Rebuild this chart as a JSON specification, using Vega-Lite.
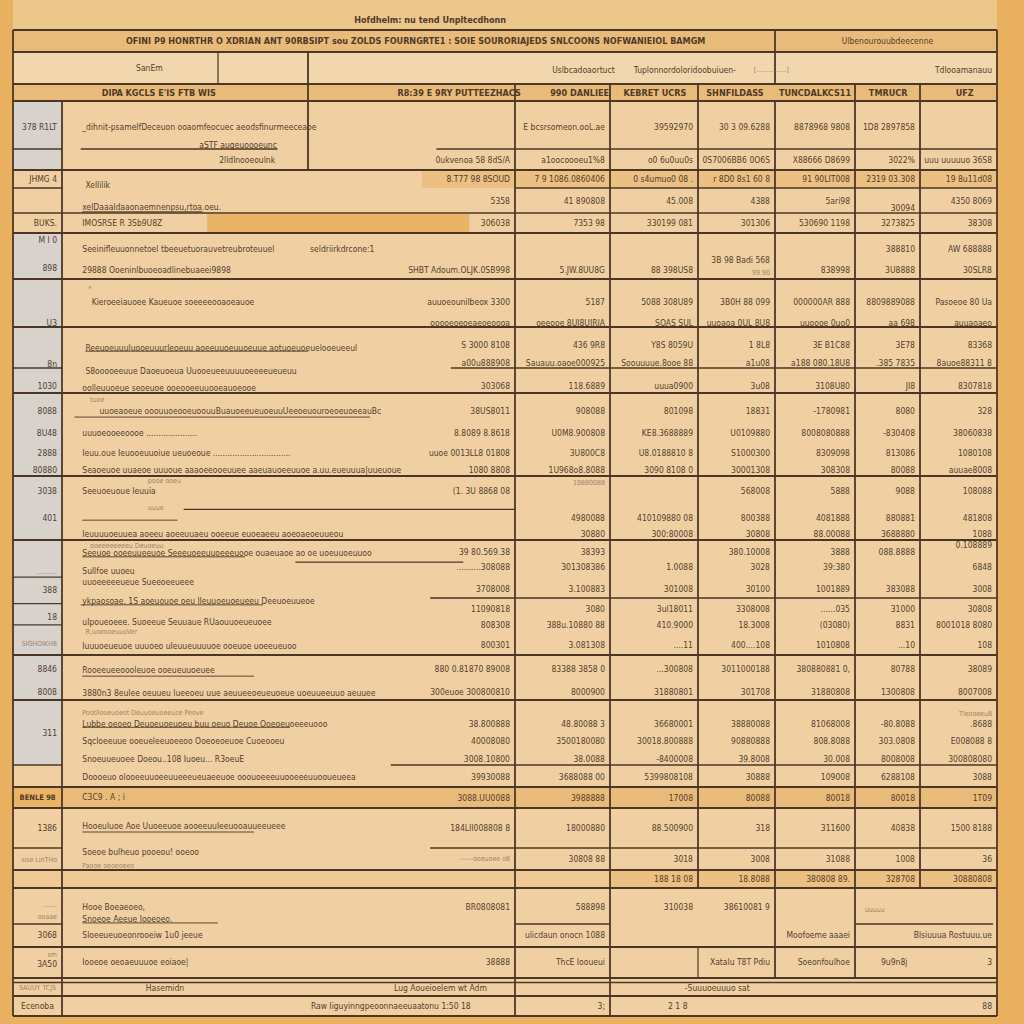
{
"$schema": "https://vega.github.io/schema/vega-lite/v6.json",
"width": 1024, "height": 1024, "padding": 0, "autosize": "none",
"background": "#E8B05F",
"config": {"view": {"stroke": null}},
"datasets": {
"fills": [
{"x":0,"x2":10,"y":-1,"y2":0,"f":"top"},
{"x":0,"x2":10,"y":0,"y2":28,"f":"base"},
{"x":0,"x2":10,"y":0,"y2":1,"f":"band"},
{"x":0,"x2":10,"y":1,"y2":2,"f":"light"},
{"x":0,"x2":10,"y":2,"y2":3,"f":"band"},
{"x":0,"x2":1,"y":3,"y2":5,"f":"gray"},
{"x":0,"x2":1,"y":8,"y2":18,"f":"gray"},
{"x":4,"x2":10,"y":5,"y2":6,"f":"band2"},
{"x":3.55,"x2":4,"y":5,"y2":6,"f":"band2"},
{"x":1.93,"x2":3.78,"y":7.05,"y2":7.95,"f":"hl"},
{"x":0,"x2":10,"y":19,"y2":20,"f":"band"},
{"x":0,"x2":1,"y":19,"y2":20,"f":"hl"},
{"x":0,"x2":10,"y":22,"y2":23,"f":"band3"},
{"x":5,"x2":10,"y":22,"y2":23,"f":"band2"}
],
"hrules": [
{"x":0,"x2":10,"y":0,"w":"b"},{"x":0,"x2":10,"y":1,"w":"b"},{"x":0,"x2":10,"y":2,"w":"b"},{"x":0,"x2":10,"y":3,"w":"b"},
{"x":0,"x2":1,"y":4,"w":"n"},{"x":1.12,"x2":2.66,"y":4,"w":"n"},{"x":3.62,"x2":10,"y":4,"w":"n"},
{"x":0,"x2":10,"y":5,"w":"b"},{"x":0,"x2":1,"y":6,"w":"n"},{"x":4,"x2":10,"y":6,"w":"n"},
{"x":0,"x2":10,"y":7,"w":"n"},{"x":0,"x2":10,"y":8,"w":"b"},{"x":0,"x2":10,"y":9,"w":"b"},{"x":0,"x2":10,"y":10,"w":"b"},
{"x":0,"x2":1,"y":11,"w":"n"},{"x":3.69,"x2":10,"y":11,"w":"n"},
{"x":0,"x2":10,"y":12,"w":"b"},{"x":0,"x2":10,"y":13,"w":"b"},{"x":0,"x2":10,"y":14,"w":"b"},
{"x":0,"x2":1,"y":14.64,"w":"n"},{"x":0,"x2":1,"y":15.1,"w":"n"},{"x":3.59,"x2":10,"y":15,"w":"n"},{"x":0,"x2":1,"y":15.47,"w":"n"},
{"x":0,"x2":10,"y":16,"w":"b"},{"x":0,"x2":10,"y":17,"w":"b"},
{"x":0,"x2":1,"y":18,"w":"n"},{"x":3.4,"x2":10,"y":18,"w":"n"},
{"x":0,"x2":10,"y":19,"w":"b"},{"x":0,"x2":10,"y":20,"w":"b"},
{"x":0,"x2":1,"y":21,"w":"n"},{"x":3.59,"x2":10,"y":21,"w":"n"},
{"x":0,"x2":10,"y":22,"w":"b"},{"x":0,"x2":10,"y":23,"w":"b"},
{"x":0,"x2":1,"y":24,"w":"n"},{"x":4,"x2":5,"y":24,"w":"n"},{"x":8,"x2":9.95,"y":24,"w":"n"},
{"x":0,"x2":10,"y":25,"w":"b"},{"x":0,"x2":10,"y":26,"w":"b"},{"x":0,"x2":10,"y":26.25,"w":"n"},
{"x":0,"x2":10,"y":27,"w":"b"},{"x":0,"x2":10,"y":28,"w":"b"},
{"x":1.15,"x2":3,"y":10.59,"w":"t"},{"x":1.08,"x2":3.3,"y":12.29,"w":"t"},{"x":1.78,"x2":4,"y":13.52,"w":"n"},
{"x":1.13,"x2":1.74,"y":13.69,"w":"t"},{"x":1.13,"x2":2.3,"y":14.29,"w":"t"},{"x":2.86,"x2":3.75,"y":14.38,"w":"n"},
{"x":1.12,"x2":2.5,"y":15.12,"w":"t"},{"x":1.13,"x2":2.4,"y":16.47,"w":"t"},{"x":1.13,"x2":2.8,"y":17.42,"w":"t"},
{"x":1.13,"x2":2.4,"y":20.6,"w":"t"},{"x":1.13,"x2":2,"y":23.97,"w":"t"},{"x":1.13,"x2":1.9,"y":6.95,"w":"t"}
],
"vrules": [
{"x":0,"y":0,"y2":28,"w":"b"},{"x":10,"y":0,"y2":28,"w":"b"},{"x":1,"y":3,"y2":28,"w":"b"},
{"x":2,"y":1,"y2":2,"w":"n"},{"x":3,"y":1,"y2":5,"w":"b"},{"x":4,"y":2,"y2":28,"w":"b"},{"x":5,"y":2,"y2":28,"w":"b"},
{"x":6,"y":2,"y2":23,"w":"b"},{"x":6,"y":25,"y2":26,"w":"n"},{"x":7,"y":0,"y2":2,"w":"b"},{"x":7,"y":3,"y2":26,"w":"b"},
{"x":8,"y":2,"y2":26,"w":"b"},{"x":9,"y":2,"y2":23,"w":"b"}
],
"th": [
{"x":3.59,"y":-0.33,"t":"Hofdhelm: nu tend Unpltecdhonn"},
{"x":3.52,"y":0.5,"t":"OFINI P9 HONRTHR O XDRIAN ANT 90RBSIPT  sou ZOLDS FOURNGRTE1 : SOIE SOURORIAJEDS SNLCOONS  NOFWANIEIOL BAMGM"},
{"x":1.62,"y":2.5,"t":"DIPA KGCLS E'IS FTB WIS"},
{"x":3.73,"y":2.5,"t":"R8:39 E 9RY PUTTEEZHACS"},
{"x":4.68,"y":2.5,"t":"990 DANLIEE"},
{"x":5.51,"y":2.5,"t":"KEBRET UCRS"},
{"x":6.48,"y":2.5,"t":"SHNFILDASS"},
{"x":7.5,"y":2.5,"t":"TUNCDALKCS11"},
{"x":8.51,"y":2.5,"t":"TMRUCR"},
{"x":9.58,"y":2.5,"t":"UFZ"},
{"x":0.5,"y":19.5,"t":"BENLE 98","k":"s"}
],
"tc": [
{"x":8.5,"y":0.5,"t":"Ulbenourouubdeecenne"},
{"x":1.56,"y":1.5,"t":"SanEm"},
{"x":4.72,"y":1.55,"t":"Uslbcadoaortuct"},
{"x":5.85,"y":1.55,"t":"Tuplonnordoloridoobuiuen-"},
{"x":6.95,"y":1.55,"t":"[...............]","k":"s"},
{"x":0.5,"y":26.55,"t":"SAUUY TCJS","k":"s"},
{"x":1.66,"y":26.55,"t":"Hasemidn"},
{"x":3.64,"y":26.55,"t":"Lug Aoueioelem wt Adm"},
{"x":6.25,"y":26.55,"t":"-Suuuoeuuuo sat"},
{"x":0.5,"y":27.5,"t":"Ecenoba"},
{"x":3.4,"y":27.5,"t":"Raw Iiguyinngpeoonnaeeuaatonu 1:50 18"},
{"x":5.77,"y":27.5,"t":"2 1 8"}
],
"tl": [
{"x":1.13,"y":3.54,"t":"_dihnit-psamelfDeceuon ooaomfeocuec aeodsfinurmeeceaoe"},
{"x":1.15,"y":5.83,"t":"Xellilik"},
{"x":1.13,"y":6.76,"t":"xelDaaaldaaonaemnenpsu,rtoa.oeu."},
{"x":1.13,"y":7.5,"t":"IMOSRSE R 3Sb9U8Z"},
{"x":1.13,"y":8.35,"t":"Seeinifleuuonnetoel tbeeuetuorauvetreubroteuuel"},
{"x":3.01,"y":8.35,"t":"seldriirkdrcone:1"},
{"x":1.13,"y":8.8,"t":"29888 Ooeninlbuoeoadlinebuaeei9898"},
{"x":1.17,"y":9.2,"t":"*","k":"s"},
{"x":1.19,"y":9.48,"t":"Kieroeeiauoee Kaueuoe   soeeeeooaoeauoe"},
{"x":1.15,"y":10.5,"t":"Reeuoeuuuluooeuuurleoeuu aoeeuuoeuuoeuue aotuoeuoeuelooeueeul"},
{"x":1.15,"y":11.12,"t":"S8ooooeeuue Daoeuoeua Uuooeueeuuuuoeeeeueueuu"},
{"x":1.13,"y":11.8,"t":"oolleuuoeue  seoeuoe  ooeooeeuuooeauoeooe"},
{"x":1.18,"y":12.08,"t":"tuoe","k":"s"},
{"x":1.24,"y":12.22,"t":"uuoeaoeue ooouuoeooeuoouuBuauoeeueuoeuuUeeoeuouroeoeuoeeauBc"},
{"x":1.13,"y":12.48,"t":"uuuoeooeeoooe ....................."},
{"x":1.13,"y":12.72,"t":"Ieuu.oue Ieuooeuuoiue ueuoeoue ................................"},
{"x":1.13,"y":12.93,"t":"Seaoeuoe uuaeoe uuuoue aaaoeeooeuuee aaeuauoeeuuoe a.uu.eueuuua|uueuoue"},
{"x":1.13,"y":13.23,"t":"Seeuoeuoue Ieuuia"},
{"x":1.55,"y":13.08,"t":"pooe ooeu","k":"s"},
{"x":1.55,"y":13.5,"t":"uuue","k":"s"},
{"x":1.13,"y":13.9,"t":"Ieuuuuoeuuea aoeeu aoeeuuaeu ooeeue euoeaeeu aoeoaeoeuueou"},
{"x":1.18,"y":14.1,"t":"ooeeeeeeeeu Deuoeuu","k":"s"},
{"x":1.13,"y":14.23,"t":"Seeuoe ooeeuueeuoe Seeeuoeeuuoeeeuooe ouaeuaoe ao oe uoeuuoeuuoo"},
{"x":1.13,"y":14.53,"t":"Sullfoe uuoeu"},
{"x":1.13,"y":14.72,"t":"uuoeeeeeueue Sueeoeeueee"},
{"x":1.13,"y":15.05,"t":"ykpaosoae. 1S aoeuouoe oeu lIeuuoeuoeueeu Deeuoeuueoe"},
{"x":1.13,"y":15.42,"t":"uIpoueoeee. Suoeeue Seuuaue RUaouuoeueuoee"},
{"x":1.15,"y":15.6,"t":"R;uoeooeuuoVer","k":"s"},
{"x":1.13,"y":15.84,"t":"Iuuuoeueuoe uuuoeo uIeuueuuuuoe ooeuoe uoeeueuoo"},
{"x":1.13,"y":16.33,"t":"Rooeeueeoooleuoe ooeueuuoeuee"},
{"x":1.13,"y":16.85,"t":"3880n3 8eulee oeuueu lueeoeu uue aeuueeoeueuoeue uoeuueeuuo aeuuee"},
{"x":1.13,"y":17.2,"t":"Pootllooeuoeot Deuuoeuoeeuce Peove","k":"s"},
{"x":1.13,"y":17.37,"t":"Lubbe oeoeo Deuoeuoeuoeu buu   oeuo Deuoe Ooeoeuoeeeuooo"},
{"x":1.13,"y":17.63,"t":"Sqcloeeuue ooeueleeuoeeoo   Ooeoeoeuoe   Cuoeooeu"},
{"x":1.13,"y":17.91,"t":"Snoeuueuoee Doeou..108 Iuoeu... R3oeuE"},
{"x":1.13,"y":18.55,"t":"Doooeuo olooeeuuoeeuueeeueuaeeuoe ooouoeeeuuooeeeuuooueueea"},
{"x":1.13,"y":19.48,"t":"C3C9  .   A ; i"},
{"x":1.13,"y":20.45,"t":"Hooeuluoe Aoe Uuoeeuoe aooeeuuleeuooauueeueee"},
{"x":1.13,"y":21.2,"t":"Soeoe bulheuo pooeou! ooeoo"},
{"x":1.13,"y":21.8,"t":"Paooe oeoeoeeo","k":"s"},
{"x":1.13,"y":23.53,"t":"Hooe Boeaeoeo,"},
{"x":1.13,"y":23.86,"t":"Snoeoe Aeeue Iooeoeo."},
{"x":8.15,"y":23.6,"t":"uuuuu","k":"s"},
{"x":1.13,"y":24.48,"t":"Sloeeueuoeonrooeiw 1u0 jeeue"},
{"x":1.13,"y":25.48,"t":"Iooeoe oeoaeuuuoe eoiaoe|"},
{"x":8.4,"y":25.48,"t":"9u9n8j"}
],
"tr": [
{"x":10,"y":1.55,"t":"Tdlooamanauu"},
{"x":1,"y":3.54,"t":"378 R1LT"},
{"x":2.71,"y":3.92,"t":"aSTF augeuoooeunc"},
{"x":5,"y":3.54,"t":"E bcsrsomeon.ooL.ae"},
{"x":6,"y":3.54,"t":"39592970"},
{"x":7,"y":3.54,"t":"30 3 09.6288"},
{"x":8,"y":3.54,"t":"8878968 9808"},
{"x":9,"y":3.54,"t":"1D8 2897858"},
{"x":2.69,"y":4.52,"t":"2lldlnooeoulnk"},
{"x":4,"y":4.52,"t":"0ukvenoa 58 8dS/A"},
{"x":5,"y":4.52,"t":"a1oocoooeu1%8"},
{"x":6,"y":4.52,"t":"o0 6u0uu0s"},
{"x":7,"y":4.52,"t":"0S7006BB6 0O6S"},
{"x":8,"y":4.52,"t":"X88666 D8699"},
{"x":9,"y":4.52,"t":"3022%"},
{"x":10,"y":4.52,"t":"uuu uuuuuo 36S8"},
{"x":1,"y":5.5,"t":"JHMG 4"},
{"x":4,"y":5.5,"t":"8.T77 98 8SOUD"},
{"x":5,"y":5.5,"t":"7 9 1086.0860406"},
{"x":6,"y":5.5,"t":"0 s4umuo0 08 ."},
{"x":7,"y":5.5,"t":"r 8D0 8s1 60 8"},
{"x":8,"y":5.5,"t":"91 90LIT008"},
{"x":9,"y":5.5,"t":"2319 03.308"},
{"x":10,"y":5.5,"t":"19 8u11d08"},
{"x":4,"y":6.52,"t":"5358"},
{"x":5,"y":6.52,"t":"41 890808"},
{"x":6,"y":6.52,"t":"45.008"},
{"x":7,"y":6.52,"t":"4388"},
{"x":8,"y":6.52,"t":"5ari98"},
{"x":9,"y":6.8,"t":"30094"},
{"x":10,"y":6.52,"t":"4350 8069"},
{"x":1,"y":7.5,"t":"BUKS."},
{"x":4,"y":7.5,"t":"306038"},
{"x":5,"y":7.5,"t":"7353 98"},
{"x":6,"y":7.5,"t":"330199 081"},
{"x":7,"y":7.5,"t":"301306"},
{"x":8,"y":7.5,"t":"530690 1198"},
{"x":9,"y":7.5,"t":"3273825"},
{"x":10,"y":7.5,"t":"38308"},
{"x":1,"y":8.15,"t":"M I 0"},
{"x":1,"y":8.76,"t":"898"},
{"x":4,"y":8.8,"t":"SHBT Adoum.OLJK.0SB998"},
{"x":5,"y":8.8,"t":"5.JW.8UU8G"},
{"x":6,"y":8.8,"t":"88 398US8"},
{"x":7,"y":8.58,"t":"3B 98 Badi 568"},
{"x":7,"y":8.88,"t":"99.90","k":"s"},
{"x":8,"y":8.8,"t":"838998"},
{"x":9,"y":8.35,"t":"388810"},
{"x":9,"y":8.8,"t":"3U8888"},
{"x":10,"y":8.35,"t":"AW 688888"},
{"x":10,"y":8.8,"t":"30SLR8"},
{"x":1,"y":9.92,"t":"U3"},
{"x":4,"y":9.48,"t":"auuoeounilbeox 3300"},
{"x":4,"y":9.92,"t":"ooooeoeoeaeoeoooa"},
{"x":5,"y":9.48,"t":"5187"},
{"x":5,"y":9.92,"t":"oeeooe 8UI8UIRIA"},
{"x":6,"y":9.48,"t":"5088 308U89"},
{"x":6,"y":9.92,"t":"SOAS SUL"},
{"x":7,"y":9.48,"t":"3B0H 88 099"},
{"x":7,"y":9.92,"t":"uuoaoa 0UL 8U8"},
{"x":8,"y":9.48,"t":"000000AR 888"},
{"x":8,"y":9.92,"t":"uuoooe 0uo0"},
{"x":9,"y":9.48,"t":"8809889088"},
{"x":9,"y":9.92,"t":"aa 698"},
{"x":10,"y":9.48,"t":"Pasoeoe 80 Ua"},
{"x":10,"y":9.92,"t":"auuaoaeo"},
{"x":1,"y":10.9,"t":"8n"},
{"x":4,"y":10.44,"t":"S 3000 8108"},
{"x":4,"y":10.88,"t":"a00u888908"},
{"x":5,"y":10.44,"t":"436 9R8"},
{"x":5,"y":10.88,"t":"Sauauu.oaoe000925"},
{"x":6,"y":10.44,"t":"Y8S 8059U"},
{"x":6,"y":10.88,"t":"Soouuuue.8ooe 88"},
{"x":7,"y":10.44,"t":"1 8L8"},
{"x":7,"y":10.88,"t":"a1u08"},
{"x":8,"y":10.44,"t":"3E B1C88"},
{"x":8,"y":10.88,"t":"a188 080.18U8"},
{"x":9,"y":10.44,"t":"3E78"},
{"x":9,"y":10.88,"t":".385 7835"},
{"x":10,"y":10.44,"t":"83368"},
{"x":10,"y":10.88,"t":"8auoe88311 8"},
{"x":1,"y":11.7,"t":"1030"},
{"x":4,"y":11.7,"t":"303068"},
{"x":5,"y":11.7,"t":"118.6889"},
{"x":6,"y":11.7,"t":"uuua0900"},
{"x":7,"y":11.7,"t":"3u08"},
{"x":8,"y":11.7,"t":"3108U80"},
{"x":9,"y":11.7,"t":"JI8"},
{"x":10,"y":11.7,"t":"8307818"},
{"x":1,"y":12.22,"t":"8088"},
{"x":1,"y":12.48,"t":"8U48"},
{"x":1,"y":12.72,"t":"2888"},
{"x":1,"y":12.93,"t":"80880"},
{"x":4,"y":12.22,"t":"38US8011"},
{"x":4,"y":12.48,"t":"8.8089 8.8618"},
{"x":4,"y":12.72,"t":"uuoe 0013LL8 01808"},
{"x":4,"y":12.93,"t":"1080 8808"},
{"x":5,"y":12.22,"t":"908088"},
{"x":5,"y":12.48,"t":"U0M8.900808"},
{"x":5,"y":12.72,"t":"3U800C8"},
{"x":5,"y":12.93,"t":"1U968o8.8088"},
{"x":6,"y":12.22,"t":"801098"},
{"x":6,"y":12.48,"t":"KE8.3688889"},
{"x":6,"y":12.72,"t":"U8.0188810 8"},
{"x":6,"y":12.93,"t":"3090 8108 0"},
{"x":7,"y":12.22,"t":"18831"},
{"x":7,"y":12.48,"t":"U0109880"},
{"x":7,"y":12.72,"t":"S1000300"},
{"x":7,"y":12.93,"t":"30001308"},
{"x":8,"y":12.22,"t":"-1780981"},
{"x":8,"y":12.48,"t":"8008080888"},
{"x":8,"y":12.72,"t":"8309098"},
{"x":8,"y":12.93,"t":"308308"},
{"x":9,"y":12.22,"t":"8080"},
{"x":9,"y":12.48,"t":"-830408"},
{"x":9,"y":12.72,"t":"813086"},
{"x":9,"y":12.93,"t":"80088"},
{"x":10,"y":12.22,"t":"328"},
{"x":10,"y":12.48,"t":"38060838"},
{"x":10,"y":12.72,"t":"1080108"},
{"x":10,"y":12.93,"t":"auuae8008"},
{"x":1,"y":13.23,"t":"3038"},
{"x":1,"y":13.66,"t":"401"},
{"x":4,"y":13.23,"t":"(1. 3U 8868 08"},
{"x":5,"y":13.11,"t":"10880088","k":"s"},
{"x":5,"y":13.66,"t":"4980088"},
{"x":5,"y":13.9,"t":"30880"},
{"x":6,"y":13.66,"t":"410109880 08"},
{"x":6,"y":13.9,"t":"300:80008"},
{"x":7,"y":13.23,"t":"568008"},
{"x":7,"y":13.66,"t":"800388"},
{"x":7,"y":13.9,"t":"30808"},
{"x":8,"y":13.23,"t":"5888"},
{"x":8,"y":13.66,"t":"4081888"},
{"x":8,"y":13.9,"t":"88.00088"},
{"x":9,"y":13.23,"t":"9088"},
{"x":9,"y":13.66,"t":"880881"},
{"x":9,"y":13.9,"t":"3688880"},
{"x":10,"y":13.23,"t":"108088"},
{"x":10,"y":13.66,"t":"481808"},
{"x":10,"y":13.9,"t":"1088"},
{"x":1,"y":14.55,"t":"..........","k":"s"},
{"x":1,"y":14.86,"t":"388"},
{"x":4,"y":14.21,"t":"39 80.569.38"},
{"x":4,"y":14.47,"t":"..........308088"},
{"x":4,"y":14.84,"t":"3708008"},
{"x":5,"y":14.21,"t":"38393"},
{"x":5,"y":14.47,"t":"301308386"},
{"x":5,"y":14.84,"t":"3.100883"},
{"x":6,"y":14.47,"t":"1.0088"},
{"x":6,"y":14.84,"t":"301008"},
{"x":7,"y":14.21,"t":"380.10008"},
{"x":7,"y":14.47,"t":"3028"},
{"x":7,"y":14.84,"t":"30100"},
{"x":8,"y":14.21,"t":"3888"},
{"x":8,"y":14.47,"t":"39:380"},
{"x":8,"y":14.84,"t":"1001889"},
{"x":9,"y":14.21,"t":"088.8888"},
{"x":9,"y":14.84,"t":"383088"},
{"x":10,"y":14.09,"t":"0.108889"},
{"x":10,"y":14.47,"t":"6848"},
{"x":10,"y":14.84,"t":"3008"},
{"x":1,"y":15.33,"t":"18"},
{"x":1,"y":15.8,"t":"SIGHOIKH8","k":"s"},
{"x":4,"y":15.19,"t":"11090818"},
{"x":4,"y":15.47,"t":"808308"},
{"x":4,"y":15.82,"t":"800301"},
{"x":5,"y":15.19,"t":"3080"},
{"x":5,"y":15.47,"t":"388u.10880 88"},
{"x":5,"y":15.82,"t":"3.081308"},
{"x":6,"y":15.19,"t":"3ul18011"},
{"x":6,"y":15.47,"t":"410.9000"},
{"x":6,"y":15.82,"t":"....11"},
{"x":7,"y":15.19,"t":"3308008"},
{"x":7,"y":15.47,"t":"18.3008"},
{"x":7,"y":15.82,"t":"400....108"},
{"x":8,"y":15.19,"t":"......035"},
{"x":8,"y":15.47,"t":"(03080)"},
{"x":8,"y":15.82,"t":"1010808"},
{"x":9,"y":15.19,"t":"31000"},
{"x":9,"y":15.47,"t":"8831"},
{"x":9,"y":15.82,"t":"...10"},
{"x":10,"y":15.19,"t":"30808"},
{"x":10,"y":15.47,"t":"8001018 8080"},
{"x":10,"y":15.82,"t":"108"},
{"x":1,"y":16.31,"t":"8846"},
{"x":1,"y":16.82,"t":"8008"},
{"x":4,"y":16.31,"t":"880 0.81870 89008"},
{"x":4,"y":16.82,"t":"300euoe 300800810"},
{"x":5,"y":16.31,"t":"83388 3858 0"},
{"x":5,"y":16.82,"t":"8000900"},
{"x":6,"y":16.31,"t":"...300808"},
{"x":6,"y":16.82,"t":"31880801"},
{"x":7,"y":16.31,"t":"3011000188"},
{"x":7,"y":16.82,"t":"301708"},
{"x":8,"y":16.31,"t":"380880881 0,"},
{"x":8,"y":16.82,"t":"31880808"},
{"x":9,"y":16.31,"t":"80788"},
{"x":9,"y":16.82,"t":"1300808"},
{"x":10,"y":16.31,"t":"38089"},
{"x":10,"y":16.82,"t":"8007008"},
{"x":1,"y":17.51,"t":"311"},
{"x":4,"y":17.37,"t":"38.800888"},
{"x":4,"y":17.63,"t":"40008080"},
{"x":4,"y":17.91,"t":"3008.10800"},
{"x":5,"y":17.37,"t":"48.80088 3"},
{"x":5,"y":17.63,"t":"3500180080"},
{"x":5,"y":17.91,"t":"38.0088"},
{"x":6,"y":17.37,"t":"36680001"},
{"x":6,"y":17.63,"t":"30018.800888"},
{"x":6,"y":17.91,"t":"-8400008"},
{"x":7,"y":17.37,"t":"38880088"},
{"x":7,"y":17.63,"t":"90880888"},
{"x":7,"y":17.91,"t":"39.8008"},
{"x":8,"y":17.37,"t":"81068008"},
{"x":8,"y":17.63,"t":"808.8088"},
{"x":8,"y":17.91,"t":"30.008"},
{"x":9,"y":17.37,"t":"-80.8088"},
{"x":9,"y":17.63,"t":"303.0808"},
{"x":9,"y":17.91,"t":"8008008"},
{"x":10,"y":17.22,"t":"Tleooeeu8","k":"s"},
{"x":10,"y":17.37,"t":".8688"},
{"x":10,"y":17.63,"t":"E008088 8"},
{"x":10,"y":17.91,"t":"300808080"},
{"x":4,"y":18.55,"t":"39930088"},
{"x":5,"y":18.55,"t":"3688088 00"},
{"x":6,"y":18.55,"t":"5399808108"},
{"x":7,"y":18.55,"t":"30888"},
{"x":8,"y":18.55,"t":"109008"},
{"x":9,"y":18.55,"t":"6288108"},
{"x":10,"y":18.55,"t":"3088"},
{"x":4,"y":19.5,"t":"3088.UU0088"},
{"x":5,"y":19.5,"t":"3988888"},
{"x":6,"y":19.5,"t":"17008"},
{"x":7,"y":19.5,"t":"80088"},
{"x":8,"y":19.5,"t":"80018"},
{"x":9,"y":19.5,"t":"80018"},
{"x":10,"y":19.5,"t":"1T09"},
{"x":1,"y":20.5,"t":"1386"},
{"x":4,"y":20.5,"t":"184LII008808 8"},
{"x":5,"y":20.5,"t":"18000880"},
{"x":6,"y":20.5,"t":"88.500900"},
{"x":7,"y":20.5,"t":"318"},
{"x":8,"y":20.5,"t":"311600"},
{"x":9,"y":20.5,"t":"40838"},
{"x":10,"y":20.5,"t":"1500 8188"},
{"x":1,"y":21.55,"t":"sise LinTHo","k":"s"},
{"x":4,"y":21.5,"t":"------ooeuoee o8","k":"s"},
{"x":5,"y":21.5,"t":"30808 88"},
{"x":6,"y":21.5,"t":"3018"},
{"x":7,"y":21.5,"t":"3008"},
{"x":8,"y":21.5,"t":"31088"},
{"x":9,"y":21.5,"t":"1008"},
{"x":10,"y":21.5,"t":"36"},
{"x":6,"y":22.5,"t":"188 18 08"},
{"x":7,"y":22.5,"t":"18.8088"},
{"x":8,"y":22.5,"t":"380808 89."},
{"x":9,"y":22.5,"t":"328708"},
{"x":10,"y":22.5,"t":"30880808"},
{"x":1,"y":23.47,"t":".......","k":"s"},
{"x":1,"y":23.8,"t":"ooaae","k":"s"},
{"x":4,"y":23.53,"t":"BR0808081"},
{"x":5,"y":23.53,"t":"588898"},
{"x":6,"y":23.53,"t":"310038"},
{"x":7,"y":23.53,"t":"38610081 9"},
{"x":1,"y":24.48,"t":"3068"},
{"x":5,"y":24.48,"t":"ulicdaun onocn 1088"},
{"x":8,"y":24.48,"t":"Moofoeme aaaei"},
{"x":10,"y":24.48,"t":"Blsiuuua Rostuuu.ue"},
{"x":1,"y":25.25,"t":"sm","k":"s"},
{"x":1,"y":25.55,"t":"3A50"},
{"x":4,"y":25.48,"t":"38888"},
{"x":5,"y":25.48,"t":"ThcE Iooueui"},
{"x":7,"y":25.48,"t":"Xatalu T8T Pdiu"},
{"x":8,"y":25.48,"t":"Soeonfoulhoe"},
{"x":10,"y":25.48,"t":"3"},
{"x":5,"y":27.5,"t":"3;"},
{"x":10,"y":27.5,"t":"88"}
]
},
"encoding": {
"x": {"field":"x","type":"quantitative","axis":null,"scale":{"type":"linear","zero":false,"nice":false,"domain":[-1,0,1,2,3,4,5,6,7,8,9,10,11],"range":[0,13,62,218,308,515,610,698,775,855,920,997,1024]}},
"y": {"field":"y","type":"quantitative","axis":null,"scale":{"type":"linear","zero":false,"nice":false,"domain":[-1,0,1,2,3,4,5,6,7,8,9,10,11,12,13,14,15,16,17,18,19,20,21,22,23,24,25,26,27,28,29],"range":[0,30,52,84,101,149,170,188,213,233,279,327,368,393,476,540,598,655,700,765,787,808,848,870,888,924,947,978,996,1016,1024]}}
},
"layer": [
{"data":{"name":"fills"},"mark":{"type":"rect","strokeWidth":0},
 "encoding":{"x2":{"field":"x2"},"y2":{"field":"y2"},
  "fill":{"field":"f","type":"nominal","legend":null,"scale":{"domain":["top","base","band","light","gray","band2","hl","band3"],"range":["#EDC68C","#F0D0A3","#E9BB7A","#F2D6AD","#D7D2CC","#ECBF83","#EAB466","#EFCA95"]}}}},
{"data":{"name":"hrules"},"mark":{"type":"rule","color":"#4C3726"},
 "encoding":{"x2":{"field":"x2"},"strokeWidth":{"condition":[{"test":"datum.w==='b'","value":2},{"test":"datum.w==='t'","value":0.9}],"value":1.3}}},
{"data":{"name":"vrules"},"mark":{"type":"rule","color":"#4C3726"},
 "encoding":{"y2":{"field":"y2"},"strokeWidth":{"condition":{"test":"datum.w==='b'","value":1.8},"value":1.2}}},
{"data":{"name":"tl"},"mark":{"type":"text","align":"left","baseline":"middle","font":"Liberation Sans Narrow, DejaVu Sans Condensed, sans-serif"},
 "encoding":{"text":{"field":"t"},"size":{"condition":{"test":"datum.k==='s'","value":7},"value":8.5},"color":{"condition":{"test":"datum.k==='s'","value":"#9C8266"},"value":"#54402C"}}},
{"data":{"name":"tr"},"mark":{"type":"text","align":"right","baseline":"middle","dx":-5,"font":"Liberation Sans Narrow, DejaVu Sans Condensed, sans-serif"},
 "encoding":{"text":{"field":"t"},"size":{"condition":{"test":"datum.k==='s'","value":7},"value":8.5},"color":{"condition":{"test":"datum.k==='s'","value":"#9C8266"},"value":"#54402C"}}},
{"data":{"name":"tc"},"mark":{"type":"text","align":"center","baseline":"middle","font":"Liberation Sans Narrow, DejaVu Sans Condensed, sans-serif"},
 "encoding":{"text":{"field":"t"},"size":{"condition":{"test":"datum.k==='s'","value":7},"value":8.5},"color":{"condition":{"test":"datum.k==='s'","value":"#9C8266"},"value":"#54402C"}}},
{"data":{"name":"th"},"mark":{"type":"text","align":"center","baseline":"middle","font":"Liberation Sans Narrow, DejaVu Sans Condensed, sans-serif","fontWeight":"bold","color":"#4E3A28"},
 "encoding":{"text":{"field":"t"},"size":{"condition":{"test":"datum.k==='s'","value":7.5},"value":9}}}
]
}
